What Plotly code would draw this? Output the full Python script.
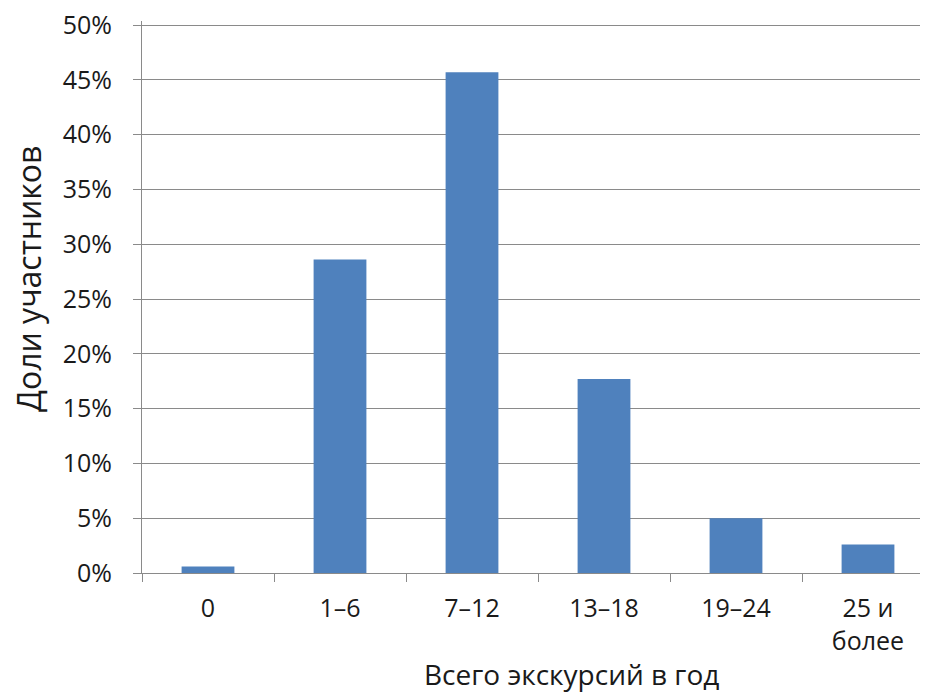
import plotly.graph_objects as go

categories = ["0", "1–6", "7–12", "13–18", "19–24", "25 и<br>более"]
shares = [0.006, 0.286, 0.457, 0.177, 0.050, 0.026]
y_tick_vals = [0, 0.05, 0.10, 0.15, 0.20, 0.25, 0.30, 0.35, 0.40, 0.45, 0.50]

FONT = "Open Sans"
GRID = "#8a8a8a"
TXT = "#1a1a1a"

# page body has an 8px margin; compensate
OFF = 8
W, H = 928 - OFF, 697 - OFF
L, T, B = 142 - OFF, 25 - OFF - 4, 573 - OFF
PW, PH = W - L, B - T
Y_TOP = 0.5 * PH / (573 - 25)  # keeps 50% at the same pixel row, with headroom

fig = go.Figure()
fig.add_trace(go.Bar(
    x=categories, y=shares, width=0.4,
    marker=dict(color="#4F81BD", line=dict(width=0)),
))

fig.update_layout(
    width=W, height=H,
    margin=dict(l=L, r=0, t=T, b=H - B),
    paper_bgcolor="white", plot_bgcolor="white",
    showlegend=False,
    font=dict(family=FONT, color=TXT),
)
fig.update_xaxes(
    type="category",
    range=[-0.5, -0.5 + PW / 132],
    showline=True, linecolor=GRID, linewidth=1,
    ticks="outside", tickson="boundaries", ticklen=8, tickcolor=GRID,
    showgrid=False,
    tickfont=dict(size=25, family=FONT, color=TXT),
    ticklabelstandoff=13,
)
fig.update_yaxes(
    range=[0, Y_TOP],
    tickvals=y_tick_vals, tickformat=".0%",
    showline=True, linecolor=GRID, linewidth=1,
    ticks="outside", ticklen=8, tickcolor=GRID,
    showgrid=True, gridcolor=GRID, gridwidth=1,
    zeroline=False,
    tickfont=dict(size=25, family=FONT, color=TXT),
    ticklabelstandoff=16,
    ticklabeloverflow="allow",
)
fig.add_annotation(
    text="Всего экскурсий в год", xref="paper", yref="paper",
    x=(571 - 142) / PW, y=-(674 - 573) / PH, showarrow=False,
    font=dict(size=28, family=FONT, color=TXT),
    xanchor="center", yanchor="middle",
)
fig.add_annotation(
    text="Доли участников", xref="paper", yref="paper",
    x=-(142 - 28) / PW, y=(573 - 279) / PH, showarrow=False, textangle=-90,
    font=dict(size=32, family=FONT, color=TXT),
    xanchor="center", yanchor="middle",
)

fig.write_html("out.html")
